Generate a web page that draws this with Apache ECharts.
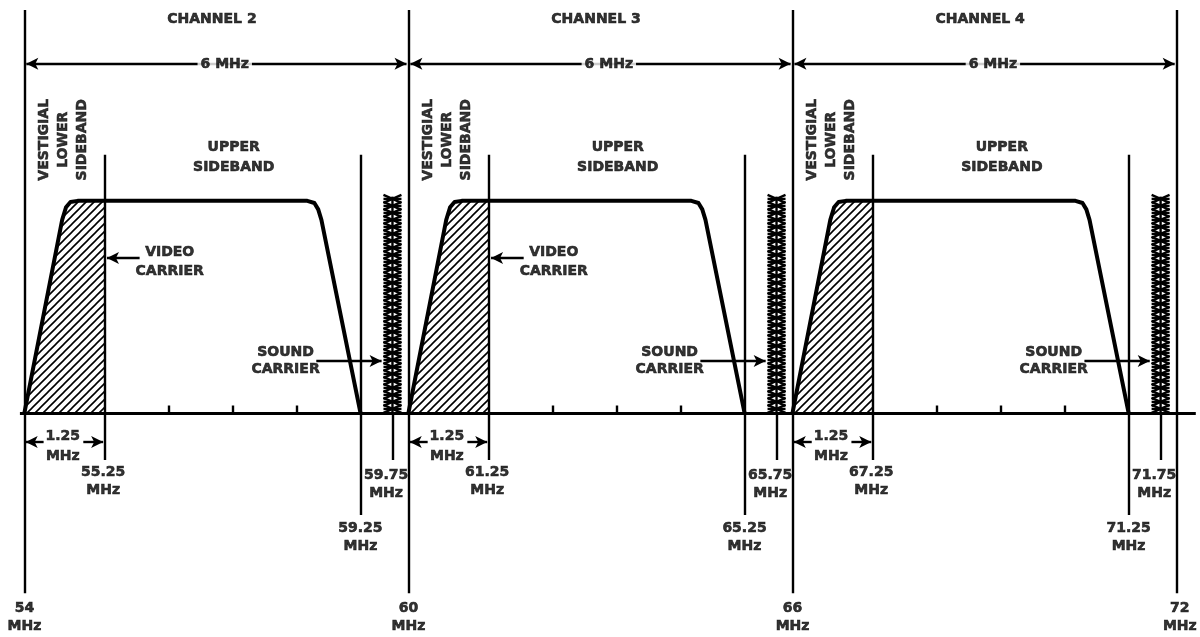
<!DOCTYPE html>
<html>
<head>
<meta charset="utf-8">
<script src="https://cdn.jsdelivr.net/npm/echarts@6/dist/echarts.min.js"></script>
<style>
  html, body { margin: 0; padding: 0; background: #fff; }
  #chart { width: 1200px; height: 637px; }
</style>
</head>
<body>
<div id="chart"></div>
<script>
// channel plan, MHz
const channelNames = ['CHANNEL 2', 'CHANNEL 3', 'CHANNEL 4'];
const channelEdges = [54, 60, 66, 72];
const videoCarriers = [55.25, 61.25, 67.25];
const upperEdges = [59.25, 65.25, 71.25];
const soundCarriers = [59.75, 65.75, 71.75];
// passband outline, offset from the channel's lower edge (MHz) and relative level
const bandOffsets = [0, 0.59, 0.65, 0.72, 0.83, 4.42, 4.53, 4.59, 4.64, 5.25];
const bandLevels = [0, 0.91, 0.97, 0.995, 1, 1, 0.99, 0.96, 0.91, 0];
// small ticks on the frequency line
const baseTicks = [56.25, 57.25, 58.25, 62.25, 63.25, 64.25, 68.25, 69.25, 70.25];
const videoLabelChannels = [0, 1];   // only channels 2 and 3 carry the "VIDEO CARRIER" note

const ink = '#000';
const font = "'DejaVu Sans', sans-serif";

let myChart = echarts.init(document.getElementById('chart'));

// diagonal hatching for the vestigial sideband
function hatch() {
  let c = document.createElement('canvas');
  c.width = 8; c.height = 8;
  let ctx = c.getContext('2d');
  ctx.strokeStyle = ink;
  ctx.lineWidth = 1.6;
  ctx.beginPath();
  ctx.moveTo(0, 8); ctx.lineTo(8, 0);
  ctx.moveTo(-2, 2); ctx.lineTo(2, -2);
  ctx.moveTo(6, 10); ctx.lineTo(10, 6);
  ctx.stroke();
  return c;
}
const hatchImg = hatch();

// straight segments drawn as markLines
let segs = [];
function seg(x1, y1, x2, y2, a1, a2, w) {
  segs.push([
    { coord: [x1, y1], symbol: a1 ? 'arrow' : 'none', lineStyle: { width: w || 2.4, color: ink } },
    { coord: [x2, y2], symbol: a2 ? 'arrow' : 'none' }
  ]);
}

// text placed in data coordinates
let texts = [];
function txt(x, y, s, extra) {
  texts.push(Object.assign({ value: [x, y], name: s }, extra || {}));
}

seg(53.93, 0, 72.3, 0, false, false, 2.8);
channelEdges.forEach(f => seg(f, 1.90, f, -0.85));
videoCarriers.forEach(f => seg(f, 1.217, f, -0.222));
upperEdges.forEach(f => seg(f, 1.217, f, -0.481));
soundCarriers.forEach(f => seg(f, 0, f, -0.222));
baseTicks.forEach(f => seg(f, 0, f, 0.035));

let series = [];

channelNames.forEach((name, i) => {
  let lo = channelEdges[i], hi = channelEdges[i + 1];
  let v = videoCarriers[i];

  let band = bandOffsets.map((o, k) => [lo + o, bandLevels[k]]);
  let hatchPts = band.filter(p => p[0] <= v);
  hatchPts.push([v, 1]);

  series.push({
    type: 'line', data: hatchPts, symbol: 'none', silent: true,
    lineStyle: { width: 0 },
    areaStyle: { color: { image: hatchImg, repeat: 'repeat' }, opacity: 1 },
    z: 1
  });
  series.push({
    type: 'line', data: band, symbol: 'none', silent: true,
    lineStyle: { width: 4, color: ink, join: 'round' },
    z: 3
  });

  // 6 MHz span
  seg(lo + 0.03, 1.646, hi - 0.03, 1.646, true, true);
  txt(lo + 3.13, 1.646, (hi - lo) + ' MHz', { label: { backgroundColor: '#fff', padding: [0, 3] } });
  txt(lo + 2.93, 1.854, name);
  txt(lo + 0.61, 1.288, 'VESTIGIAL\nLOWER\nSIDEBAND', { label: { rotate: 90, lineHeight: 19 } });
  txt(lo + 3.27, 1.203, 'UPPER\nSIDEBAND', { label: { lineHeight: 20 } });

  if (videoLabelChannels.indexOf(i) >= 0) {
    seg(v + 0.55, 0.731, v + 0.04, 0.731, false, true);
    txt(v + 1.02, 0.712, 'VIDEO\nCARRIER', { label: { lineHeight: 19 } });
  }

  let s = soundCarriers[i];
  seg(s - 1.19, 0.245, s - 0.17, 0.245, false, true);
  txt(lo + 4.08, 0.245, 'SOUND\nCARRIER', { label: { lineHeight: 17 } });

  // vestigial width dimension below the line
  seg(lo + 0.3, -0.137, lo + 0.02, -0.137, false, true);
  seg(v - 0.33, -0.137, v - 0.02, -0.137, false, true);
  txt(lo + 0.6, -0.156, (v - lo).toFixed(2) + '\nMHz', { label: { lineHeight: 20 } });

  txt(v - 0.02, -0.325, v.toFixed(2) + '\nMHz');
  txt(upperEdges[i], -0.585, upperEdges[i].toFixed(2) + '\nMHz');
  txt(s - 0.1, -0.335, s.toFixed(2) + '\nMHz');
});

channelEdges.forEach((f, i) => {
  txt(i === channelEdges.length - 1 ? f + 0.05 : f, -0.962, f + '\nMHz');
});

series.push({
  type: 'line', data: [], silent: true, z: 4,
  markLine: {
    silent: true, animation: false,
    symbol: ['none', 'none'], symbolSize: [9, 12],
    label: { show: false },
    lineStyle: { type: 'solid', color: ink, width: 2.4 },
    emphasis: { disabled: true },
    data: segs
  }
});

// sound carrier drawn as a column of asterisks
series.push({
  type: 'custom', silent: true, z: 5,
  data: soundCarriers.map(f => [f, 1.02]),
  renderItem: function (params, api) {
    let bottom = api.coord([api.value(0), 0]);
    let top = api.coord([api.value(0), api.value(1)]);
    let x = bottom[0];
    let style = { stroke: ink, lineWidth: 2.4, fill: null };
    let children = [{ type: 'line', shape: { x1: x, y1: top[1], x2: x, y2: bottom[1] }, style: style }];
    for (let y = bottom[1] - 4; y > top[1] + 2; y -= 7) {
      children.push({ type: 'line', shape: { x1: x - 9, y1: y - 4, x2: x + 9, y2: y + 4 }, style: style });
      children.push({ type: 'line', shape: { x1: x - 9, y1: y + 4, x2: x + 9, y2: y - 4 }, style: style });
      children.push({ type: 'line', shape: { x1: x - 9, y1: y, x2: x + 9, y2: y }, style: style });
    }
    return { type: 'group', children: children };
  }
});

series.push({
  type: 'scatter', data: texts, symbolSize: 0, silent: true, z: 10,
  label: {
    show: true, position: 'inside', formatter: '{b}',
    color: ink, fontFamily: font, fontWeight: 'bold', fontSize: 14,
    textBorderColor: ink, textBorderWidth: 0.6,
    lineHeight: 18, align: 'center', verticalAlign: 'middle'
  }
});

let option = {
  animation: false,
  backgroundColor: '#fff',
  grid: { left: 18, right: 1, top: 10, bottom: 12 },
  xAxis: { type: 'value', min: 53.9, max: 72.35, show: false },
  yAxis: { type: 'value', min: -1, max: 1.9, show: false },
  series: series
};
myChart.setOption(option);
</script>
</body>
</html>
